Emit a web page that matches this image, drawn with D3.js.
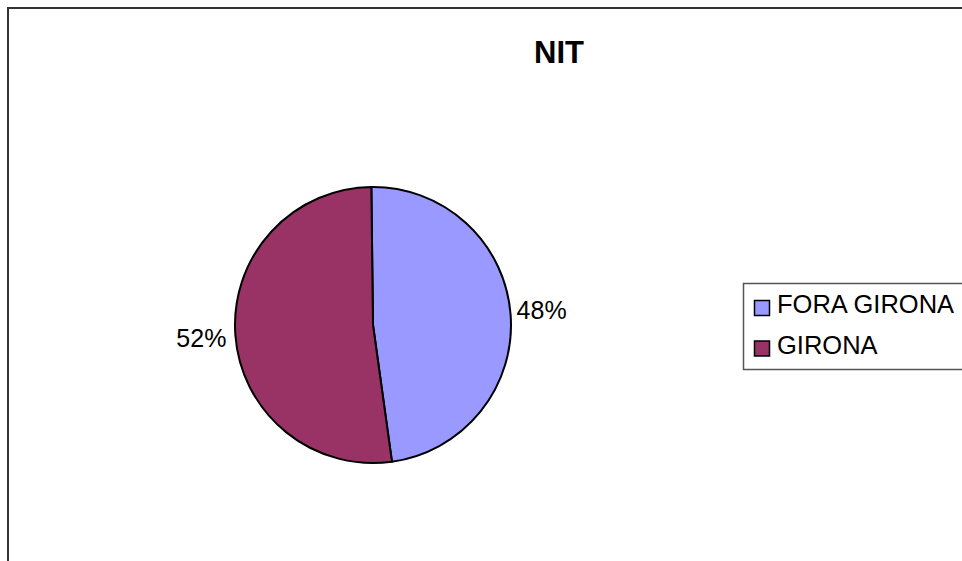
<!DOCTYPE html>
<html><head><meta charset="utf-8">
<script src="https://cdn.jsdelivr.net/npm/d3@7"></script>
<style>body{margin:0;background:#fff}svg{display:block}text{font-family:"Liberation Sans",Arial,sans-serif}</style>
</head><body><svg id="c" width="962" height="561"></svg>
<script>
const title = "NIT";
const categories = ["FORA GIRONA", "GIRONA"];
const values = [48, 52];
const labels = ["48%", "52%"];
const colors = ["#9999FF", "#993366"];

const svg = d3.select("#c");
// chart border
svg.append("rect").attr("x", 8).attr("y", 8).attr("width", 980).attr("height", 600)
  .attr("fill", "#fff").attr("stroke", "#333").attr("stroke-width", 2);

svg.append("text").attr("x", 559).attr("y", 63).attr("text-anchor", "middle")
  .attr("font-weight", "bold").attr("font-size", 31).text(title);

const cx = 373, cy = 325, r = 138;
const pie = d3.pie().sort(null).value(d => d).startAngle(-0.012).endAngle(2 * Math.PI - 0.012);
const arcs = pie(values);
const arc = d3.arc().innerRadius(0).outerRadius(r);
const g = svg.append("g").attr("transform", `translate(${cx},${cy})`);
g.selectAll("path").data(arcs).join("path")
  .attr("d", arc).attr("fill", (d, i) => colors[i])
  .attr("stroke", "#000").attr("stroke-width", 2).attr("stroke-linejoin", "round");

g.selectAll("text.lbl").data(arcs).join("text").attr("class", "lbl")
  .attr("font-size", 25)
  .each(function (d, i) {
    const a = (d.startAngle + d.endAngle) / 2;
    const x = Math.sin(a) * (r + 6), y = -Math.cos(a) * r * 1.36;
    const right = Math.sin(a) > 0;
    d3.select(this).attr("x", right ? x : x - 3).attr("y", y + 8)
      .attr("text-anchor", right ? "start" : "end").text(labels[i]);
  });

// legend
const lg = svg.append("g");
lg.append("rect").attr("x", 743.5).attr("y", 283.5).attr("width", 260).attr("height", 86)
  .attr("fill", "#fff").attr("stroke", "#555").attr("stroke-width", 1.5);
categories.forEach((c, i) => {
  const y = 300 + i * 40.5;
  lg.append("rect").attr("x", 754.5).attr("y", y + 0.5).attr("width", 15).attr("height", 15)
    .attr("fill", colors[i]).attr("stroke", "#000").attr("stroke-width", 1.5);
  lg.append("text").attr("x", 777).attr("y", y + 13).attr("font-size", 25.5).text(c);
});
</script></body></html>
